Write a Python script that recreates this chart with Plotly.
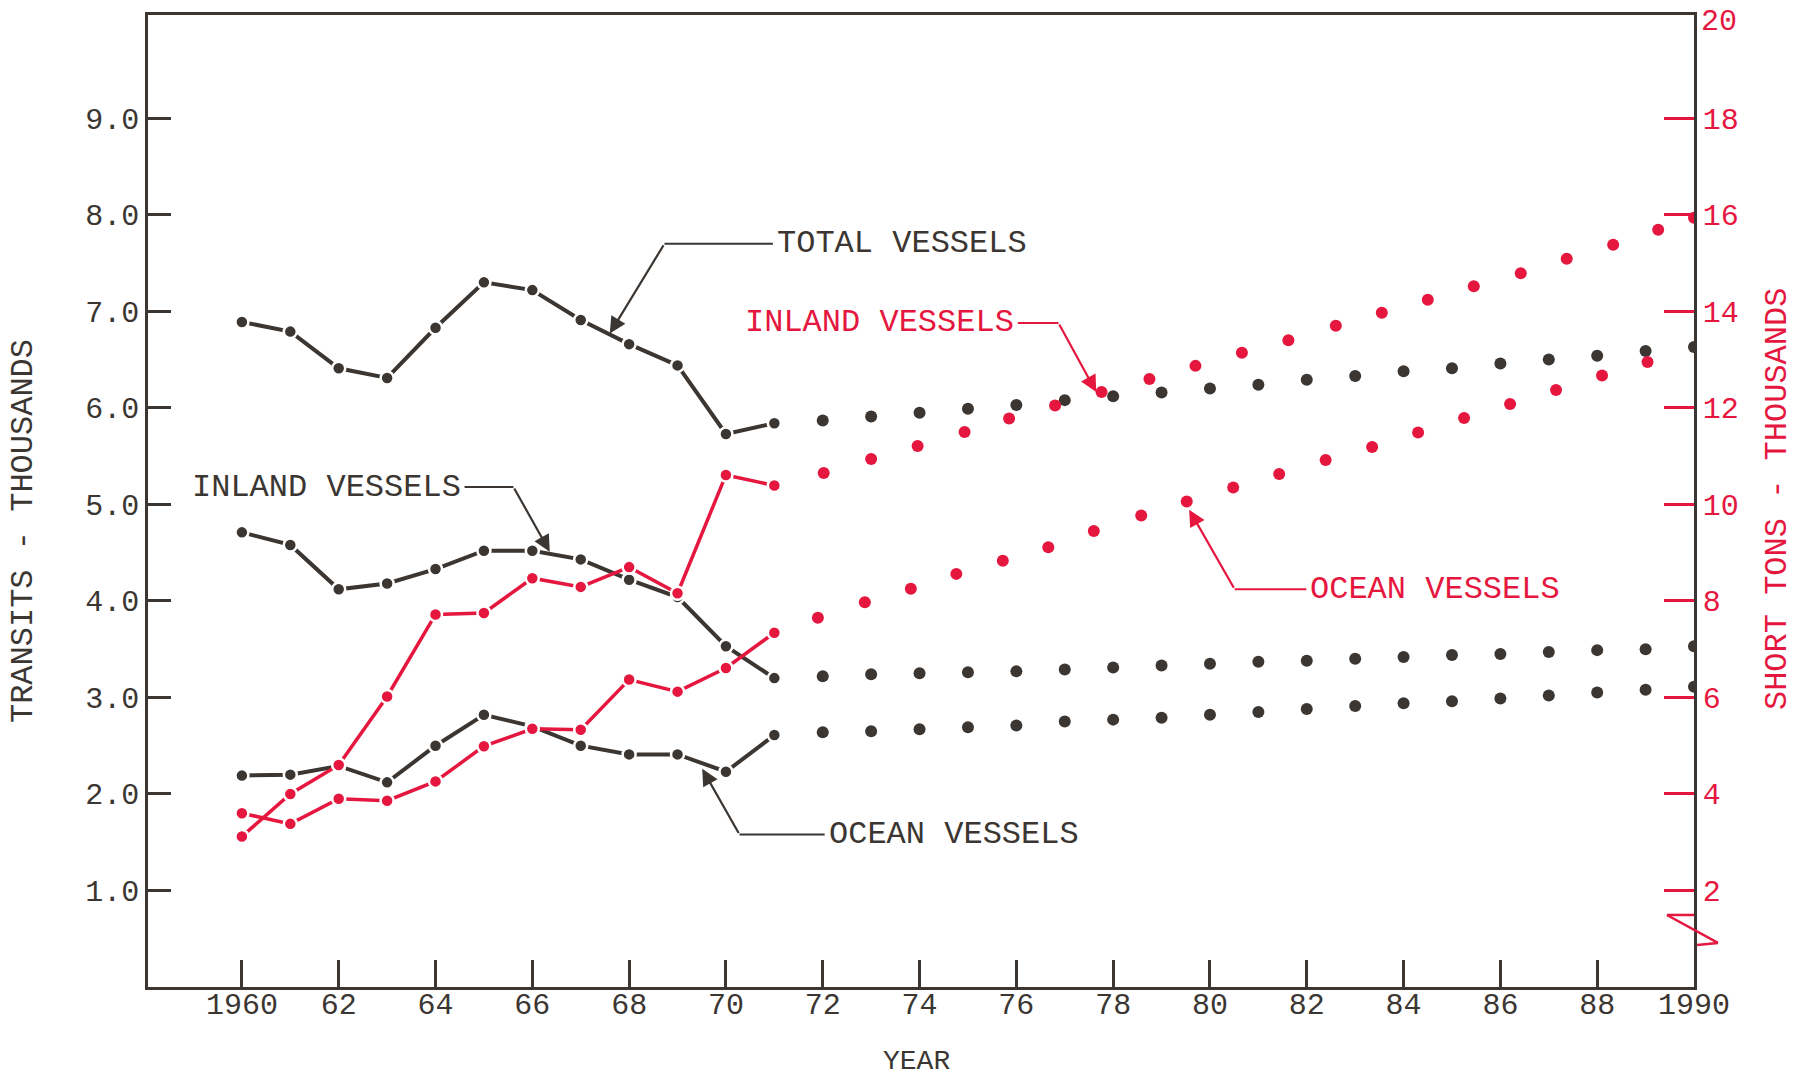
import plotly.graph_objects as go

# ---- data ---------------------------------------------------------------
# transits (thousands), recorded years
years_hist = [1960, 1961, 1962, 1963, 1964, 1965, 1966, 1967, 1968, 1969, 1970, 1971]
total_hist = [6.89, 6.79, 6.41, 6.31, 6.83, 7.30, 7.22, 6.91, 6.66, 6.44, 5.73, 5.84]
inland_hist = [4.71, 4.58, 4.12, 4.18, 4.33, 4.52, 4.52, 4.43, 4.22, 4.04, 3.53, 3.20]
ocean_hist = [2.19, 2.20, 2.29, 2.12, 2.50, 2.82, 2.70, 2.50, 2.41, 2.41, 2.23, 2.61]

# transits (thousands), projected years
years_proj = list(range(1972, 1991))
total_proj = [5.87, 5.91, 5.95, 5.99, 6.03, 6.08, 6.12, 6.16, 6.20, 6.24,
              6.29, 6.33, 6.38, 6.41, 6.46, 6.50, 6.54, 6.59, 6.63]
inland_proj = [3.22, 3.24, 3.25, 3.26, 3.27, 3.29, 3.31, 3.33, 3.35, 3.37,
               3.38, 3.40, 3.42, 3.44, 3.45, 3.47, 3.49, 3.50, 3.53]
ocean_proj = [2.64, 2.65, 2.67, 2.69, 2.71, 2.75, 2.77, 2.79, 2.82, 2.85,
              2.88, 2.91, 2.94, 2.96, 2.99, 3.02, 3.05, 3.08, 3.11]

# tonnage (thousand short tons), recorded years
inland_tons_hist = [3.12, 4.00, 4.60, 6.02, 7.72, 7.75, 8.47, 8.29, 8.70, 8.16, 10.61, 10.39]
ocean_tons_hist = [3.60, 3.38, 3.90, 3.86, 4.26, 4.99, 5.35, 5.33, 6.37, 6.12, 6.61, 7.34]

# tonnage projections (dots as plotted along the year scale)
inland_tons_proj_x = [1972.02, 1973.0, 1973.96, 1974.93, 1975.85, 1976.8, 1977.76, 1978.75,
                      1979.7, 1980.66, 1981.62, 1982.6, 1983.55, 1984.5, 1985.45, 1986.42,
                      1987.37, 1988.33, 1989.26, 1990.0]
inland_tons_proj = [10.65, 10.94, 11.21, 11.50, 11.78, 12.05, 12.33, 12.60, 12.87, 13.14,
                    13.40, 13.70, 13.97, 14.24, 14.52, 14.79, 15.09, 15.38, 15.69, 15.94]
ocean_tons_proj_x = [1971.9, 1972.87, 1973.82, 1974.76, 1975.72, 1976.66, 1977.6, 1978.58,
                     1979.52, 1980.48, 1981.43, 1982.39, 1983.35, 1984.3, 1985.25, 1986.2,
                     1987.15, 1988.1, 1989.04]
ocean_tons_proj = [7.65, 7.97, 8.25, 8.56, 8.83, 9.11, 9.45, 9.77, 10.06, 10.35,
                   10.63, 10.92, 11.19, 11.49, 11.79, 12.08, 12.37, 12.67, 12.95]

# axis ticks
x_tickvals = list(range(1960, 1991, 2))
x_ticktext = ["1960"] + [str(v % 100) for v in range(1962, 1990, 2)] + ["1990"]
left_tickvals = [1, 2, 3, 4, 5, 6, 7, 8, 9]
left_ticktext = ["1.0", "2.0", "3.0", "4.0", "5.0", "6.0", "7.0", "8.0", "9.0"]
right_tickvals = [2, 4, 6, 8, 10, 12, 14, 16, 18]

# ---- style --------------------------------------------------------------
INK = "#3b3632"
RED = "#e5173f"
FONT = "Liberation Mono, Courier New, monospace"
FS = 30
LABEL_FS = 32

fig = go.Figure()


def recorded(x, y, color, width, yaxis):
    fig.add_trace(go.Scatter(
        x=x, y=y, mode="lines+markers", yaxis=yaxis,
        line=dict(color=color, width=width),
        marker=dict(color=color, size=13, line=dict(color="white", width=2.5)),
        showlegend=False, hoverinfo="skip"))


def projected(x, y, color, yaxis):
    fig.add_trace(go.Scatter(
        x=x, y=y, mode="markers", yaxis=yaxis,
        marker=dict(color=color, size=12),
        showlegend=False, hoverinfo="skip"))


# tonnage (right scale) first, transits drawn on top
recorded(years_hist, ocean_tons_hist, RED, 3.5, "y2")
recorded(years_hist, inland_tons_hist, RED, 3.5, "y2")
projected(ocean_tons_proj_x, ocean_tons_proj, RED, "y2")
projected(inland_tons_proj_x, inland_tons_proj, RED, "y2")

recorded(years_hist, total_hist, INK, 4, "y")
recorded(years_hist, inland_hist, INK, 4, "y")
recorded(years_hist, ocean_hist, INK, 4, "y")
projected(years_proj, total_proj, INK, "y")
projected(years_proj, inland_proj, INK, "y")
projected(years_proj, ocean_proj, INK, "y")

# ---- callout labels with elbow leaders ------------------------------------
# (text, text x, anchor, label y, elbow x, tip x, tip y, axis, colour)
callouts = [
    ("TOTAL VESSELS", 1970.97, "left", 7.70, 1968.73, 1967.60, 6.77, "y", INK),
    ("INLAND VESSELS", 1964.60, "right", 5.18, 1965.61, 1966.36, 4.51, "y", INK),
    ("OCEAN VESSELS", 1972.04, "left", 1.58, 1970.28, 1969.51, 2.26, "y", INK),
    ("INLAND VESSELS", 1976.03, "right", 13.76, 1976.87, 1977.65, 12.33, "y2", RED),
    ("OCEAN VESSELS", 1981.99, "left", 8.24, 1980.51, 1979.57, 9.89, "y2", RED),
]

shapes = []
annotations = []
for text, tx, anchor, ly, ex, px, py, yref, col in callouts:
    shapes.append(dict(type="line", xref="x", yref=yref, x0=tx, x1=ex, y0=ly, y1=ly,
                       line=dict(color=col, width=2)))
    annotations.append(dict(x=px, y=py, xref="x", yref=yref, ax=ex, ay=ly,
                            axref="x", ayref=yref, text="", showarrow=True,
                            arrowhead=2, arrowsize=1.5, arrowwidth=2.2,
                            arrowcolor=col, standoff=0, startstandoff=0))
    annotations.append(dict(x=tx, y=ly, xref="x", yref=yref, text=text,
                            showarrow=False, xanchor=anchor, yanchor="middle",
                            xshift=2 if anchor == "left" else -2,
                            font=dict(family=FONT, size=LABEL_FS, color=col)))

# axis titles
annotations += [
    dict(x=-0.0809, y=0.469, xref="paper", yref="paper", text="TRANSITS - THOUSANDS",
         textangle=-90, xanchor="center", yanchor="middle", showarrow=False,
         font=dict(family=FONT, size=LABEL_FS, color=INK)),
    dict(x=1.0537, y=0.502, xref="paper", yref="paper", text="SHORT TONS - THOUSANDS",
         textangle=-90, xanchor="center", yanchor="middle", showarrow=False,
         font=dict(family=FONT, size=LABEL_FS, color=RED)),
    dict(x=0.4968, y=-0.0765, xref="paper", yref="paper", text="YEAR",
         xanchor="center", yanchor="middle", showarrow=False,
         font=dict(family=FONT, size=28, color=INK)),
    dict(x=1.0, y=20, xref="paper", yref="y2", text="20", xanchor="left", xshift=5,
         showarrow=False, font=dict(family=FONT, size=FS, color=RED)),
]

# axis-break mark on the tonnage scale
brk = dict(color=RED, width=2.5)
shapes += [
    dict(type="line", xref="x domain", yref="y domain", x0=0.9825, y0=0.0741, x1=1.0, y1=0.0741, line=brk),
    dict(type="line", xref="x domain", yref="y domain", x0=0.9825, y0=0.0741, x1=1.0155, y1=0.0453, line=brk),
    dict(type="line", xref="x domain", yref="y domain", x0=1.0155, y0=0.0453, x1=1.002, y1=0.0432, line=brk),
]

fig.update_layout(
    width=1804, height=1081,
    margin=dict(l=148, r=110, t=15, b=94),
    paper_bgcolor="white", plot_bgcolor="white",
    font=dict(family=FONT, size=FS, color=INK),
    shapes=shapes, annotations=annotations,
    xaxis=dict(range=[1958.06, 1990], tickvals=x_tickvals, ticktext=x_ticktext,
               ticks="inside", ticklen=27, tickwidth=2.5, tickcolor=INK,
               ticklabelstandoff=-12,
               showline=True, linecolor=INK, linewidth=2.5, mirror=True,
               showgrid=False, zeroline=False,
               tickfont=dict(family=FONT, size=FS, color=INK)),
    yaxis=dict(range=[0, 10.07], tickvals=left_tickvals, ticktext=left_ticktext,
               ticks="inside", ticklen=23, tickwidth=3, tickcolor=INK,
               showline=True, linecolor=INK, linewidth=2.5,
               showgrid=False, zeroline=False,
               tickfont=dict(family=FONT, size=FS, color=INK)),
    yaxis2=dict(range=[0, 20.14], overlaying="y", side="right", anchor="x",
                tickvals=right_tickvals, ticks="inside", ticklen=30, tickwidth=3,
                tickcolor=RED, showline=True, linecolor=INK, linewidth=2.5,
                showgrid=False, zeroline=False,
                tickfont=dict(family=FONT, size=FS, color=RED)),
)

fig.write_html("out.html")
